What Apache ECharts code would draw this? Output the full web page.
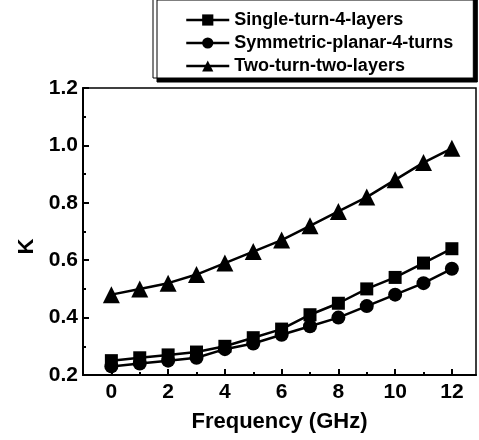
<!DOCTYPE html>
<html>
<head>
<meta charset="utf-8">
<script src="https://cdn.jsdelivr.net/npm/echarts@6/dist/echarts.min.js"></script>
<style>
  html, body { margin: 0; padding: 0; background: #fff; }
  #chart { width: 479px; height: 440px; }
</style>
</head>
<body>
<div id="chart"></div>
<script>
// Frequency sweep (GHz) and coupling coefficient K for each winding layout
const frequency = [0, 1, 2, 3, 4, 5, 6, 7, 8, 9, 10, 11, 12];
const singleTurn4Layers = [0.25, 0.26, 0.27, 0.28, 0.30, 0.33, 0.36, 0.41, 0.45, 0.50, 0.54, 0.59, 0.64];
const symmetricPlanar4Turns = [0.23, 0.24, 0.25, 0.26, 0.29, 0.31, 0.34, 0.37, 0.40, 0.44, 0.48, 0.52, 0.57];
const twoTurnTwoLayers = [0.48, 0.50, 0.52, 0.55, 0.59, 0.63, 0.67, 0.72, 0.77, 0.82, 0.88, 0.94, 0.99];

const xMajorTicks = [0, 2, 4, 6, 8, 10, 12];
const xMinorTicks = [1, 3, 5, 7, 9, 11];

const font = 'Liberation Sans, Arial, sans-serif';

function pairs(values) {
  return frequency.map((f, i) => [f, values[i]]);
}

function lineSeries(name, values, symbol, size) {
  return {
    name: name,
    type: 'line',
    data: pairs(values),
    symbol: symbol,
    symbolSize: size,
    showSymbol: true,
    color: '#000',
    lineStyle: { color: '#000', width: 2.5 },
    itemStyle: { color: '#000' },
    emphasis: { disabled: true },
    animation: false
  };
}

const chart = echarts.init(document.getElementById('chart'), null, { renderer: 'canvas' });

chart.setOption({
  backgroundColor: '#fff',
  animation: false,
  grid: {
    left: 83, right: 3, top: 88, bottom: 65,
    show: true, borderColor: '#000', borderWidth: 1.5,
    backgroundColor: 'transparent'
  },
  legend: {
    orient: 'vertical',
    left: 153,
    top: -4,
    padding: [15, 20, 3, 32],
    itemWidth: 43,
    itemHeight: 14,
    itemGap: 5,
    lineStyle: { width: 2.5 },
    backgroundColor: '#fff',
    borderColor: '#000',
    borderWidth: 1,
    shadowColor: '#000',
    shadowBlur: 0,
    shadowOffsetX: 4,
    shadowOffsetY: 4,
    textStyle: { fontFamily: font, fontWeight: 'bold', fontSize: 18, color: '#000' },
    data: ['Single-turn-4-layers', 'Symmetric-planar-4-turns', 'Two-turn-two-layers']
  },
  xAxis: [
    {
      type: 'value',
      min: -1, max: 12.85,
      name: 'Frequency (GHz)',
      nameLocation: 'middle',
      nameGap: 36,
      nameTextStyle: { fontFamily: font, fontWeight: 'bold', fontSize: 22, color: '#000' },
      axisLine: { show: true, onZero: false, lineStyle: { color: '#000', width: 2 } },
      axisTick: { show: true, inside: true, length: 6, lineStyle: { color: '#000', width: 2 }, customValues: xMajorTicks },
      axisLabel: { customValues: xMajorTicks, margin: 7, fontFamily: font, fontWeight: 'bold', fontSize: 21, color: '#000' },
      splitLine: { show: false }
    },
    {
      type: 'value',
      min: -1, max: 12.85,
      position: 'bottom',
      axisLine: { show: false, onZero: false },
      axisTick: { show: true, inside: true, length: 3, lineStyle: { color: '#000', width: 2 }, customValues: xMinorTicks },
      axisLabel: { show: false },
      splitLine: { show: false }
    }
  ],
  yAxis: {
    type: 'value',
    min: 0.2, max: 1.2, interval: 0.2,
    name: 'K',
    nameLocation: 'middle',
    nameGap: 45,
    nameTextStyle: { fontFamily: font, fontWeight: 'bold', fontSize: 22, color: '#000', padding: [0, 0, 0, -30] },
    axisLine: { show: true, onZero: false, lineStyle: { color: '#000', width: 2 } },
    axisTick: { show: true, inside: true, length: 6, lineStyle: { color: '#000', width: 2 } },
    minorTick: { show: true, splitNumber: 2, length: 3, lineStyle: { color: '#000', width: 2 } },
    axisLabel: {
      margin: 5, fontFamily: font, fontWeight: 'bold', fontSize: 21, color: '#000',
      formatter: v => v.toFixed(1)
    },
    splitLine: { show: false }
  },
  series: [
    lineSeries('Single-turn-4-layers', singleTurn4Layers, 'rect', 13),
    lineSeries('Symmetric-planar-4-turns', symmetricPlanar4Turns, 'circle', 14),
    lineSeries('Two-turn-two-layers', twoTurnTwoLayers, 'triangle', 17)
  ]
});
</script>
</body>
</html>
